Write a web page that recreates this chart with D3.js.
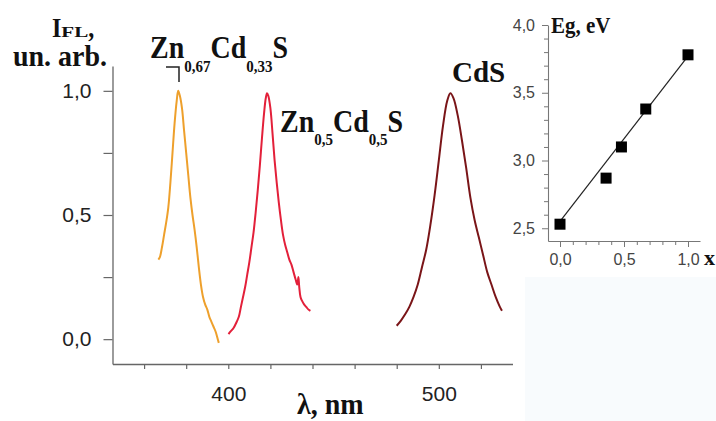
<!DOCTYPE html>
<html>
<head>
<meta charset="utf-8">
<script src="https://cdn.jsdelivr.net/npm/d3@7"></script>
<style>
  body { margin: 0; background: #fff; }
  svg { display: block; }
</style>
</head>
<body>
<div class="chart"></div>
<script>
// photoluminescence spectra, wavelength (nm) vs normalised intensity
const lambdaZn67 = [366.8, 367.5, 368.5, 369.5, 370.5, 371.5, 372.5, 373.5, 374.5, 375.5, 376.2, 377, 378, 379, 380, 381, 382, 383, 384, 385, 386, 387, 388, 389, 390, 391, 392, 393, 394, 395, 395.5]
const intZn67    = [0.32, 0.33, 0.37, 0.42, 0.47, 0.53, 0.63, 0.75, 0.87, 0.96, 1.0, 0.98, 0.93, 0.84, 0.75, 0.66, 0.57, 0.50, 0.44, 0.37, 0.29, 0.22, 0.17, 0.14, 0.12, 0.09, 0.07, 0.05, 0.03, 0.0, -0.015]

const lambdaZn50 = [400.1, 401, 402.5, 404, 405, 406, 407, 408, 409, 410, 411, 412, 413, 414, 415, 416, 417, 417.8, 418.4, 419, 420, 421, 422, 423, 424, 425, 426, 427, 428, 429, 430, 431, 432, 432.8, 433.3, 433.7, 434.3, 435, 436, 437, 438, 439]
const intZn50    = [0.02, 0.03, 0.045, 0.07, 0.09, 0.13, 0.17, 0.21, 0.26, 0.31, 0.37, 0.43, 0.51, 0.60, 0.70, 0.81, 0.91, 0.97, 0.99, 0.98, 0.93, 0.83, 0.72, 0.63, 0.55, 0.48, 0.42, 0.38, 0.35, 0.32, 0.30, 0.27, 0.24, 0.22, 0.25, 0.21, 0.17, 0.155, 0.14, 0.13, 0.12, 0.114]

const lambdaCdS = [480, 482, 484, 486, 488, 490, 492, 494, 496, 498, 500, 502, 504, 505.5, 507, 509, 511, 513, 515, 517, 519, 521, 523, 525, 527, 529, 530]
const intCdS    = [0.054, 0.075, 0.10, 0.13, 0.17, 0.22, 0.29, 0.36, 0.46, 0.58, 0.72, 0.86, 0.96, 0.99, 0.97, 0.90, 0.80, 0.69, 0.57, 0.48, 0.41, 0.34, 0.27, 0.22, 0.17, 0.13, 0.114]

const xTicks = [360, 380, 400, 420, 440, 460, 480, 500, 520]
const xTickLabels = [400, 500]
const yTicks = [0, 0.25, 0.5, 0.75, 1.0]
const yTickLabels = [0, 0.5, 1.0]

// inset: band gap vs composition x
const compX = [0, 0.36, 0.48, 0.67, 1.0]
const gapEg = [2.53, 2.87, 3.10, 3.38, 3.78]
const fitX = [0, 1.0]
const fitEg = [2.55, 3.77]
const insetXTicks = [0, 0.5, 1.0]
const insetYTicks = [2.5, 3.0, 3.5, 4.0]

const W = 716, H = 421
const serif = "'Liberation Serif', 'Times New Roman', serif"
const sans = "'Liberation Sans', Arial, sans-serif"
const comma = f => v => d3.format(f)(v).replace(".", ",")
const isIn = (arr, d) => arr.some(t => Math.abs(t - d) < 1e-9)

var svg = d3.select(".chart")
  .append("svg")
  .attr("width", W)
  .attr("height", H)

// faint tinted patch lower right
svg.append("rect")
  .attr("x", 525).attr("y", 277)
  .attr("width", 191).attr("height", 144)
  .attr("fill", "#f8fbfd")

// main scales
const x = d3.scaleLinear().domain([345, 535]).range([112.5, 512.5])
const y = d3.scaleLinear().domain([-0.1, 1.1]).range([364, 66])

const xAxis = d3.axisBottom(x)
  .tickValues(xTicks)
  .tickSize(5)
  .tickSizeOuter(0)
  .tickPadding(17)
  .tickFormat(d => xTickLabels.includes(d) ? d : "")

const yAxis = d3.axisLeft(y)
  .tickValues(yTicks)
  .tickSize(9)
  .tickSizeOuter(0)
  .tickPadding(12)
  .tickFormat(d => yTickLabels.includes(d) ? comma(".1f")(d) : "")

const gx = svg.append("g")
  .attr("transform", "translate(0," + y.range()[0] + ")")
  .call(xAxis)
const gy = svg.append("g")
  .attr("transform", "translate(" + x.range()[0] + ",0)")
  .call(yAxis)

;[gx, gy].forEach(g => {
  g.select(".domain").attr("stroke", "#666").attr("stroke-width", 1.3)
  g.selectAll(".tick line").attr("stroke", "#666").attr("stroke-width", 1.2)
  g.selectAll("text").attr("font-family", sans).attr("font-size", 21).attr("fill", "#222")
})

// spectra
const line = d3.line()
  .x(d => x(d[0]))
  .y(d => y(d[1]))
  .curve(d3.curveCatmullRom)

const spectra = [
  { l: lambdaZn67, v: intZn67, color: "#eea02c" },
  { l: lambdaZn50, v: intZn50, color: "#e3203a" },
  { l: lambdaCdS,  v: intCdS,  color: "#7a1518" }
]

spectra.forEach(s => {
  svg.append("path")
    .datum(d3.zip(s.l, s.v))
    .attr("d", line)
    .attr("fill", "none")
    .attr("stroke", s.color)
    .attr("stroke-width", 2)
    .attr("stroke-linejoin", "round")
})

// bold serif label, optionally stretched vertically like the scanned figure
function label(px, py, sy) {
  return svg.append("g")
    .attr("transform", "translate(" + px + "," + py + ") scale(1," + sy + ")")
    .append("text")
    .attr("font-family", serif).attr("font-weight", "bold").attr("fill", "#111")
}

// axis titles
const yTitle = label(52, 37, 1.1)
yTitle.append("tspan").attr("font-size", 24).text("I")
yTitle.append("tspan").attr("font-size", 13).attr("textLength", 27).attr("lengthAdjust", "spacingAndGlyphs").text("FL")
yTitle.append("tspan").attr("font-size", 24).text(",")

label(13, 66, 1.05).attr("font-size", 28).text("un. arb.")
label(297, 414, 1.05).attr("font-size", 28).text("λ, nm")

// compound labels with subscripts
function formula(px, py, parts, size, sy) {
  const t = label(px, py, sy)
  let shifted = false
  parts.forEach(p => {
    const sub = p.sub === true
    const dy = sub && !shifted ? 12 : (!sub && shifted ? -12 : 0)
    shifted = sub
    t.append("tspan").attr("dy", dy).attr("font-size", sub ? 15 : size).text(p.t)
  })
}

formula(150, 58, [{t: "Zn"}, {t: "0,67", sub: true}, {t: "Cd"}, {t: "0,33", sub: true}, {t: "S"}], 28, 1.15)
formula(280, 132, [{t: "Zn"}, {t: "0,5", sub: true}, {t: "Cd"}, {t: "0,5", sub: true}, {t: "S"}], 28, 1.1)
formula(452, 82, [{t: "CdS"}], 29, 1.0)

svg.append("path")
  .attr("d", "M166,67H179V82")
  .attr("fill", "none")
  .attr("stroke", "#222")
  .attr("stroke-width", 1.5)

// inset
const xi = d3.scaleLinear().domain([-0.09375, 1.09375]).range([548, 700])
const yi = d3.scaleLinear().domain([2.406, 4.0]).range([241, 25])

const ixAxis = d3.axisBottom(xi)
  .tickValues(d3.range(0, 11).map(i => i / 10))
  .tickSize(4).tickSizeOuter(0).tickPadding(9)
  .tickFormat(d => isIn(insetXTicks, d) ? comma(".1f")(d) : "")
const iyAxis = d3.axisLeft(yi)
  .tickValues(d3.range(25, 41).map(i => i / 10))
  .tickSize(4).tickSizeOuter(0).tickPadding(9)
  .tickFormat(d => isIn(insetYTicks, d) ? comma(".1f")(d) : "")

const gix = svg.append("g").attr("transform", "translate(0," + yi.range()[0] + ")").call(ixAxis)
const giy = svg.append("g").attr("transform", "translate(" + xi.range()[0] + ",0)").call(iyAxis)

;[gix, giy].forEach(g => {
  g.select(".domain").attr("stroke", "#777").attr("stroke-width", 1.1)
  g.selectAll(".tick line").attr("stroke", "#777")
  g.selectAll("text").attr("font-family", sans).attr("font-size", 16).attr("fill", "#444")
})
gix.selectAll(".tick line").attr("y2", d => isIn(insetXTicks, d) ? 6 : 4)
giy.selectAll(".tick line").attr("x2", d => isIn(insetYTicks, d) ? -6 : -4)

svg.append("path")
  .datum(d3.zip(fitX, fitEg))
  .attr("d", d3.line().x(d => xi(d[0])).y(d => yi(d[1])))
  .attr("stroke", "#222")
  .attr("stroke-width", 1.2)
  .attr("fill", "none")

const sq = 11
svg.selectAll(".pt")
  .data(d3.zip(compX, gapEg))
  .enter().append("rect")
  .attr("class", "pt")
  .attr("x", d => xi(d[0]) - sq / 2)
  .attr("y", d => yi(d[1]) - sq / 2)
  .attr("width", sq).attr("height", sq)
  .attr("fill", "#000")

label(551, 33, 1.05).attr("font-size", 21).text("Eg, eV")
label(704, 265, 1.0).attr("font-size", 22).text("x")
</script>
</body>
</html>
